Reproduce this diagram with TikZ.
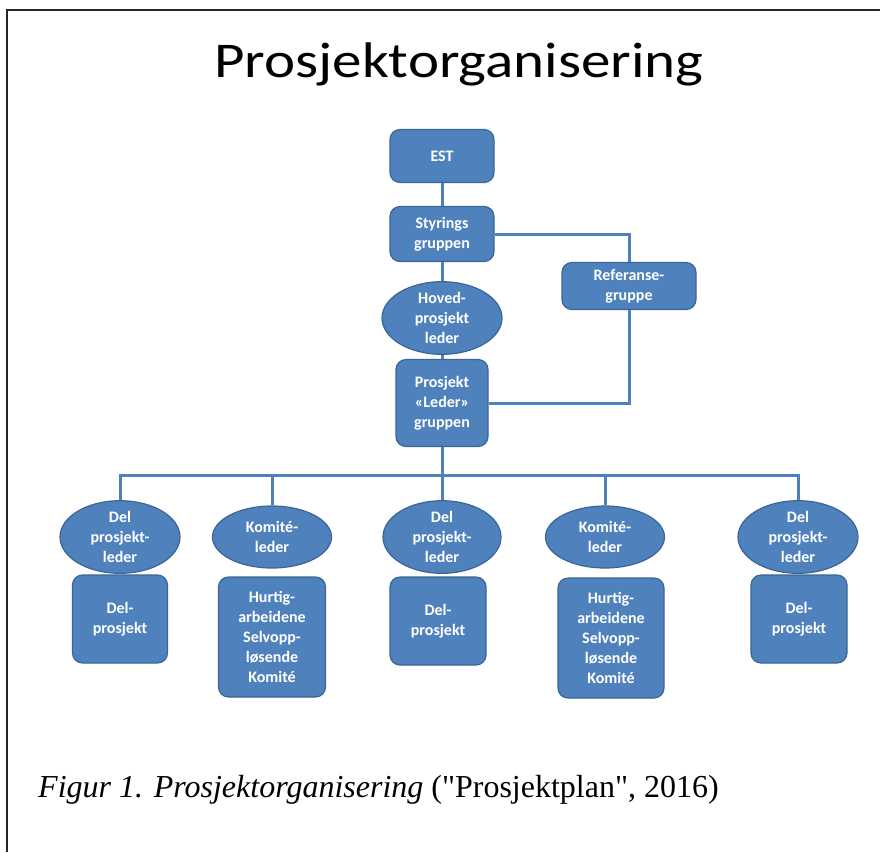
\documentclass[tikz,border=0pt]{standalone}
\usepackage{fontspec}
\setmainfont{Liberation Serif}[Ligatures=TeXOff]
\newfontfamily\calib{Carlito}
\usetikzlibrary{shapes.geometric}
\definecolor{accblue}{HTML}{4F81BD}
\definecolor{accdark}{HTML}{3A6597}
\tikzset{
  box/.style={draw=accdark, fill=accblue, line width=1.2pt, rounded corners=10pt, inner sep=1pt,
    text=white, font=\calib\bfseries\fontsize{16}{20}\selectfont, align=center},
  oval/.style={ellipse, draw=accdark, fill=accblue, line width=1.2pt, inner sep=0pt,
    text=white, font=\calib\bfseries\fontsize{16}{20}\selectfont, align=center},
  conn/.style={draw=accblue, line width=3pt},
}
\begin{document}
\begin{tikzpicture}[x=1pt,y=-1pt]
\useasboundingbox (0,0) rectangle (880,852);
\fill[white] (0,0) rectangle (880,852);
\draw[line width=1.8pt, black!85] (880,10) -- (7,10) -- (7,852);
\node[font=\calib\fontsize{50}{60}\selectfont, xscale=1.18, anchor=base] (title) at (459,77) {Prosjektorganisering};

\node[box, minimum width=104pt, minimum height=53pt] (est) at (442,156) {EST};
\node[box, minimum width=104pt, minimum height=55pt] (styr) at (442,234) {Styrings\\gruppen};
\node[oval, minimum width=120pt, minimum height=64pt] (hoved) at (442,318) {Hoved-\\prosjekt\\leder};
\node[box, minimum width=92pt, minimum height=87pt] (proj) at (442,403) {Prosjekt\\«Leder»\\gruppen};
\node[box, minimum width=134pt, minimum height=47pt] (ref) at (629,286) {Referanse-\\gruppe};

\node[oval, minimum width=120pt, minimum height=62pt] (del1) at (120,537) {Del\\prosjekt-\\leder};
\node[oval, minimum width=119pt, minimum height=62pt] (kom1) at (272,537) {Komité-\\leder};
\node[oval, minimum width=118pt, minimum height=62pt] (del2) at (442,537) {Del\\prosjekt-\\leder};
\node[oval, minimum width=119pt, minimum height=62pt] (kom2) at (605,537) {Komité-\\leder};
\node[oval, minimum width=120pt, minimum height=62pt] (del3) at (798,537) {Del\\prosjekt-\\leder};

\node[box, minimum width=95pt, minimum height=88pt] (dp1) at (120,619) {Del-\\prosjekt};
\node[box, minimum width=107pt, minimum height=120pt] (hu1) at (272,637) {Hurtig-\\arbeidene\\Selvopp-\\løsende\\Komité};
\node[box, minimum width=96pt, minimum height=88pt] (dp2) at (438,621) {Del-\\prosjekt};
\node[box, minimum width=106pt, minimum height=120pt] (hu2) at (611,638) {Hurtig-\\arbeidene\\Selvopp-\\løsende\\Komité};
\node[box, minimum width=96pt, minimum height=88pt] (dp3) at (799,619) {Del-\\prosjekt};

\coordinate (bus) at (442,475);

\draw[conn] (est) -- (styr);
\draw[conn] (styr) -- (hoved);
\draw[conn] (hoved) -- (proj);
\draw[conn] (styr.east) -| (ref.north);
\draw[conn] (ref.south) |- (proj.east);
\draw[conn] (proj.south) -- (del2.north);
\draw[conn] (del1.north) |- (bus) -| (del3.north);
\draw[conn] (kom1.north) -- (kom1.north |- bus);
\draw[conn] (kom2.north) -- (kom2.north |- bus);

\node[anchor=base west, font=\fontsize{32}{38}\selectfont, inner sep=0pt] (cap) at (38,797)
  {\textit{Figur 1. Prosjektorganisering} ("Prosjektplan", 2016)};
\end{tikzpicture}
\end{document}
